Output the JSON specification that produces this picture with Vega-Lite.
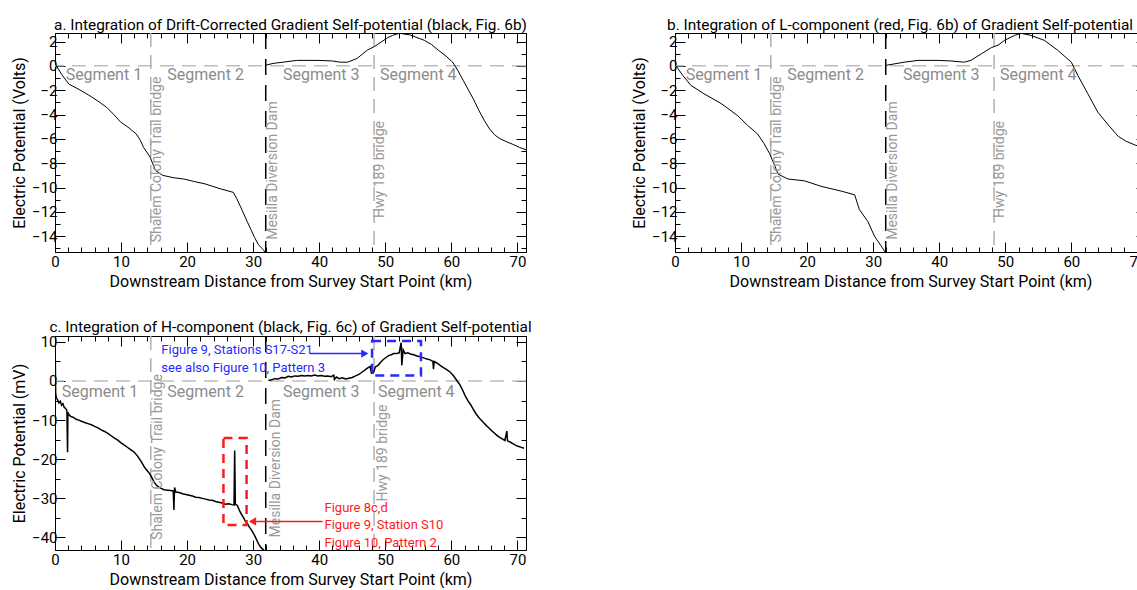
{
  "$schema": "https://vega.github.io/schema/vega-lite/v6.json",
  "padding": {"left": 11, "top": 17, "right": 0, "bottom": 0},
  "config": {
    "font": "Roboto, Liberation Sans, sans-serif",
    "view": {"stroke": "black", "strokeWidth": 1},
    "axis": {"grid": false, "domainColor": "black", "tickColor": "black", "labelColor": "black", "titleColor": "black", "labelFontSize": 15, "titleFontSize": 16, "titleFontWeight": "normal", "labelFlush": false, "labelOverlap": false},
    "title": {"fontSize": 15.4, "fontWeight": "normal", "color": "black", "offset": -1},
    "concat": {"spacing": 20}
  },
  "datasets": {
    "curveA": [
      {"x": 0, "y": 0.2, "part": 1}, {"x": 1, "y": -0.7, "part": 1}, {"x": 2.1, "y": -1.5, "part": 1}, {"x": 3.5, "y": -1.9, "part": 1}, {"x": 5.1, "y": -2.4, "part": 1}, {"x": 6.5, "y": -2.9, "part": 1}, {"x": 7.8, "y": -3.4, "part": 1}, {"x": 8.9, "y": -4.0, "part": 1}, {"x": 9.9, "y": -4.6, "part": 1}, {"x": 11.2, "y": -5.1, "part": 1}, {"x": 12.3, "y": -5.6, "part": 1}, {"x": 12.9, "y": -6.1, "part": 1}, {"x": 13.4, "y": -6.7, "part": 1}, {"x": 14.4, "y": -7.5, "part": 1}, {"x": 15.2, "y": -8.6, "part": 1}, {"x": 16.3, "y": -9.0, "part": 1}, {"x": 18, "y": -9.2, "part": 1}, {"x": 19.5, "y": -9.3, "part": 1}, {"x": 21, "y": -9.5, "part": 1}, {"x": 22.7, "y": -9.7, "part": 1}, {"x": 25, "y": -10.1, "part": 1}, {"x": 27, "y": -10.4, "part": 1}, {"x": 27.5, "y": -10.9, "part": 1}, {"x": 28.1, "y": -11.6, "part": 1}, {"x": 29.1, "y": -12.8, "part": 1}, {"x": 29.7, "y": -13.5, "part": 1}, {"x": 30.2, "y": -14.1, "part": 1}, {"x": 30.8, "y": -14.7, "part": 1}, {"x": 31.5, "y": -15.1, "part": 1}, {"x": 31.8, "y": -15.3, "part": 1},
      {"x": 31.9, "y": 0.05, "part": 2}, {"x": 33, "y": 0.2, "part": 2}, {"x": 34.5, "y": 0.3, "part": 2}, {"x": 36.6, "y": 0.45, "part": 2}, {"x": 39.8, "y": 0.45, "part": 2}, {"x": 42, "y": 0.4, "part": 2}, {"x": 43.2, "y": 0.3, "part": 2}, {"x": 44.3, "y": 0.3, "part": 2}, {"x": 45.7, "y": 0.6, "part": 2}, {"x": 46.5, "y": 0.95, "part": 2}, {"x": 47.3, "y": 1.3, "part": 2}, {"x": 48.4, "y": 1.6, "part": 2}, {"x": 49.5, "y": 2.0, "part": 2}, {"x": 50.3, "y": 2.3, "part": 2}, {"x": 51.1, "y": 2.5, "part": 2}, {"x": 52.1, "y": 2.68, "part": 2}, {"x": 53.7, "y": 2.55, "part": 2}, {"x": 55.9, "y": 2.1, "part": 2}, {"x": 57, "y": 1.75, "part": 2}, {"x": 58, "y": 1.3, "part": 2}, {"x": 59.2, "y": 0.8, "part": 2}, {"x": 60.2, "y": 0.3, "part": 2}, {"x": 61, "y": -0.4, "part": 2}, {"x": 61.8, "y": -1.2, "part": 2}, {"x": 62.6, "y": -2.0, "part": 2}, {"x": 63.4, "y": -2.8, "part": 2}, {"x": 64.2, "y": -3.7, "part": 2}, {"x": 65, "y": -4.5, "part": 2}, {"x": 65.8, "y": -5.2, "part": 2}, {"x": 66.6, "y": -5.7, "part": 2}, {"x": 67.4, "y": -6.0, "part": 2}, {"x": 68.2, "y": -6.2, "part": 2}, {"x": 69.3, "y": -6.45, "part": 2}, {"x": 70.3, "y": -6.7, "part": 2}, {"x": 71.3, "y": -6.9, "part": 2}
    ],
    "curveB": [
      {"x": 0, "y": 0.1, "part": 1}, {"x": 1.2, "y": -0.8, "part": 1}, {"x": 2.4, "y": -1.6, "part": 1}, {"x": 4.4, "y": -2.3, "part": 1}, {"x": 7, "y": -3.1, "part": 1}, {"x": 9.5, "y": -4.1, "part": 1}, {"x": 11, "y": -4.9, "part": 1}, {"x": 12.5, "y": -5.6, "part": 1}, {"x": 13.5, "y": -6.4, "part": 1}, {"x": 14.3, "y": -7.2, "part": 1}, {"x": 15.1, "y": -8.2, "part": 1}, {"x": 15.6, "y": -8.9, "part": 1}, {"x": 17.1, "y": -9.3, "part": 1}, {"x": 19.6, "y": -9.45, "part": 1}, {"x": 22.1, "y": -9.9, "part": 1}, {"x": 25.2, "y": -10.3, "part": 1}, {"x": 27.2, "y": -10.6, "part": 1}, {"x": 27.9, "y": -11.8, "part": 1}, {"x": 29.2, "y": -12.8, "part": 1}, {"x": 30.2, "y": -14, "part": 1}, {"x": 31.2, "y": -14.8, "part": 1}, {"x": 31.8, "y": -15.3, "part": 1},
      {"x": 32.0, "y": 0.05, "part": 2}, {"x": 34.7, "y": 0.3, "part": 2}, {"x": 36.8, "y": 0.45, "part": 2}, {"x": 39.8, "y": 0.45, "part": 2}, {"x": 41.8, "y": 0.4, "part": 2}, {"x": 43.8, "y": 0.3, "part": 2}, {"x": 44.8, "y": 0.45, "part": 2}, {"x": 46.4, "y": 1.0, "part": 2}, {"x": 47.9, "y": 1.5, "part": 2}, {"x": 48.9, "y": 1.7, "part": 2}, {"x": 49.9, "y": 2.1, "part": 2}, {"x": 51.4, "y": 2.5, "part": 2}, {"x": 52.4, "y": 2.68, "part": 2}, {"x": 53.9, "y": 2.5, "part": 2}, {"x": 55.9, "y": 2.1, "part": 2}, {"x": 57.9, "y": 1.3, "part": 2}, {"x": 60, "y": 0.3, "part": 2}, {"x": 61, "y": -0.8, "part": 2}, {"x": 62.5, "y": -2.3, "part": 2}, {"x": 64, "y": -3.8, "part": 2}, {"x": 65.5, "y": -4.8, "part": 2}, {"x": 67.1, "y": -5.8, "part": 2}, {"x": 68.3, "y": -6.2, "part": 2}, {"x": 69.6, "y": -6.5, "part": 2}, {"x": 71.3, "y": -6.8, "part": 2}
    ],
    "curveC": [
      {"x": 0, "y": 0, "part": 1}, {"x": 0.05, "y": 5, "part": 1}, {"x": 0.1, "y": -3, "part": 1}, {"x": 0.2, "y": -4.3, "part": 1}, {"x": 0.4, "y": -4.8, "part": 1}, {"x": 0.6, "y": -5.6, "part": 1}, {"x": 0.8, "y": -5.2, "part": 1}, {"x": 1.0, "y": -6.2, "part": 1}, {"x": 1.2, "y": -5.8, "part": 1}, {"x": 1.4, "y": -6.8, "part": 1}, {"x": 1.6, "y": -7.0, "part": 1}, {"x": 1.8, "y": -7.6, "part": 1}, {"x": 1.9, "y": -18.2, "part": 1}, {"x": 1.95, "y": -8.0, "part": 1}, {"x": 2.1, "y": -8.6, "part": 1}, {"x": 2.4, "y": -9.1, "part": 1}, {"x": 2.8, "y": -9.3, "part": 1}, {"x": 3.2, "y": -9.8, "part": 1}, {"x": 3.6, "y": -10.0, "part": 1}, {"x": 4.0, "y": -10.3, "part": 1}, {"x": 4.5, "y": -10.6, "part": 1}, {"x": 5.0, "y": -10.9, "part": 1}, {"x": 5.5, "y": -11.2, "part": 1}, {"x": 6.0, "y": -11.6, "part": 1}, {"x": 6.5, "y": -12.0, "part": 1}, {"x": 7.0, "y": -12.5, "part": 1}, {"x": 7.5, "y": -12.9, "part": 1}, {"x": 8.0, "y": -13.4, "part": 1}, {"x": 8.5, "y": -14.0, "part": 1}, {"x": 9.0, "y": -14.6, "part": 1}, {"x": 9.5, "y": -15.1, "part": 1}, {"x": 10.0, "y": -15.8, "part": 1}, {"x": 10.5, "y": -16.4, "part": 1}, {"x": 11.0, "y": -17.0, "part": 1}, {"x": 11.5, "y": -17.6, "part": 1}, {"x": 12.0, "y": -18.2, "part": 1}, {"x": 12.5, "y": -19.2, "part": 1}, {"x": 13.0, "y": -20.5, "part": 1}, {"x": 13.3, "y": -21.3, "part": 1}, {"x": 13.6, "y": -22.2, "part": 1}, {"x": 14.0, "y": -23.0, "part": 1}, {"x": 14.3, "y": -23.6, "part": 1}, {"x": 14.6, "y": -24.5, "part": 1}, {"x": 15.0, "y": -25.8, "part": 1}, {"x": 15.3, "y": -26.5, "part": 1}, {"x": 15.6, "y": -27.0, "part": 1}, {"x": 16.0, "y": -27.4, "part": 1}, {"x": 16.5, "y": -27.8, "part": 1}, {"x": 17.0, "y": -27.9, "part": 1}, {"x": 17.5, "y": -28.0, "part": 1}, {"x": 17.9, "y": -28.1, "part": 1}, {"x": 18.0, "y": -33.0, "part": 1}, {"x": 18.1, "y": -27.2, "part": 1}, {"x": 18.3, "y": -28.4, "part": 1}, {"x": 18.8, "y": -28.5, "part": 1}, {"x": 19.3, "y": -28.8, "part": 1}, {"x": 19.8, "y": -29.0, "part": 1}, {"x": 20.3, "y": -29.2, "part": 1}, {"x": 20.8, "y": -29.4, "part": 1}, {"x": 21.3, "y": -29.7, "part": 1}, {"x": 21.8, "y": -29.8, "part": 1}, {"x": 22.3, "y": -30.0, "part": 1}, {"x": 22.8, "y": -30.2, "part": 1}, {"x": 23.3, "y": -30.4, "part": 1}, {"x": 23.8, "y": -30.5, "part": 1}, {"x": 24.3, "y": -30.8, "part": 1}, {"x": 24.8, "y": -31.0, "part": 1}, {"x": 25.3, "y": -31.2, "part": 1}, {"x": 25.8, "y": -31.5, "part": 1}, {"x": 26.3, "y": -31.4, "part": 1}, {"x": 26.8, "y": -31.6, "part": 1}, {"x": 27.1, "y": -31.7, "part": 1}, {"x": 27.2, "y": -17.8, "part": 1}, {"x": 27.3, "y": -31.5, "part": 1}, {"x": 27.6, "y": -31.8, "part": 1}, {"x": 27.9, "y": -33.0, "part": 1}, {"x": 28.2, "y": -34.0, "part": 1}, {"x": 28.5, "y": -34.8, "part": 1}, {"x": 28.8, "y": -35.8, "part": 1}, {"x": 29.1, "y": -36.4, "part": 1}, {"x": 29.4, "y": -37.3, "part": 1}, {"x": 29.7, "y": -38.0, "part": 1}, {"x": 30.0, "y": -38.8, "part": 1}, {"x": 30.3, "y": -39.8, "part": 1}, {"x": 30.6, "y": -40.9, "part": 1}, {"x": 30.9, "y": -41.9, "part": 1}, {"x": 31.2, "y": -42.6, "part": 1}, {"x": 31.5, "y": -43.1, "part": 1}, {"x": 31.8, "y": -43.7, "part": 1},
      {"x": 32.3, "y": 0.1, "part": 2}, {"x": 32.8, "y": 0.3, "part": 2}, {"x": 33.3, "y": 0.6, "part": 2}, {"x": 33.8, "y": 0.5, "part": 2}, {"x": 34.3, "y": 0.9, "part": 2}, {"x": 34.8, "y": 0.8, "part": 2}, {"x": 35.3, "y": 1.2, "part": 2}, {"x": 35.8, "y": 1.0, "part": 2}, {"x": 36.3, "y": 1.3, "part": 2}, {"x": 36.8, "y": 1.2, "part": 2}, {"x": 37.3, "y": 1.4, "part": 2}, {"x": 37.8, "y": 1.3, "part": 2}, {"x": 38.3, "y": 1.4, "part": 2}, {"x": 38.8, "y": 1.3, "part": 2}, {"x": 39.3, "y": 1.5, "part": 2}, {"x": 39.8, "y": 1.3, "part": 2}, {"x": 40.3, "y": 1.4, "part": 2}, {"x": 40.8, "y": 1.2, "part": 2}, {"x": 41.3, "y": 1.3, "part": 2}, {"x": 41.8, "y": 1.1, "part": 2}, {"x": 42.2, "y": 1.5, "part": 2}, {"x": 42.3, "y": 0.4, "part": 2}, {"x": 42.6, "y": 1.0, "part": 2}, {"x": 43.0, "y": 0.6, "part": 2}, {"x": 43.5, "y": 0.8, "part": 2}, {"x": 44.0, "y": 0.5, "part": 2}, {"x": 44.5, "y": 0.7, "part": 2}, {"x": 45.0, "y": 0.9, "part": 2}, {"x": 45.5, "y": 1.3, "part": 2}, {"x": 46.0, "y": 1.7, "part": 2}, {"x": 46.5, "y": 2.3, "part": 2}, {"x": 47.0, "y": 2.9, "part": 2}, {"x": 47.4, "y": 3.4, "part": 2}, {"x": 47.7, "y": 3.7, "part": 2}, {"x": 47.9, "y": 2.0, "part": 2}, {"x": 48.2, "y": 2.1, "part": 2}, {"x": 48.5, "y": 3.6, "part": 2}, {"x": 48.9, "y": 4.0, "part": 2}, {"x": 49.3, "y": 4.8, "part": 2}, {"x": 49.7, "y": 5.5, "part": 2}, {"x": 50.1, "y": 6.0, "part": 2}, {"x": 50.5, "y": 6.5, "part": 2}, {"x": 50.9, "y": 6.7, "part": 2}, {"x": 51.3, "y": 7.0, "part": 2}, {"x": 51.7, "y": 7.0, "part": 2}, {"x": 52.1, "y": 7.2, "part": 2}, {"x": 52.4, "y": 9.8, "part": 2}, {"x": 52.5, "y": 4.0, "part": 2}, {"x": 52.7, "y": 8.0, "part": 2}, {"x": 53.0, "y": 7.0, "part": 2}, {"x": 53.4, "y": 7.2, "part": 2}, {"x": 53.8, "y": 6.9, "part": 2}, {"x": 54.3, "y": 6.7, "part": 2}, {"x": 54.8, "y": 6.4, "part": 2}, {"x": 55.3, "y": 6.2, "part": 2}, {"x": 55.8, "y": 5.9, "part": 2}, {"x": 56.3, "y": 5.6, "part": 2}, {"x": 56.8, "y": 5.4, "part": 2}, {"x": 57.2, "y": 5.0, "part": 2}, {"x": 57.3, "y": 3.0, "part": 2}, {"x": 57.4, "y": 5.0, "part": 2}, {"x": 57.8, "y": 4.6, "part": 2}, {"x": 58.3, "y": 4.0, "part": 2}, {"x": 58.8, "y": 3.4, "part": 2}, {"x": 59.3, "y": 2.9, "part": 2}, {"x": 59.8, "y": 2.3, "part": 2}, {"x": 60.3, "y": 1.4, "part": 2}, {"x": 60.8, "y": 0.2, "part": 2}, {"x": 61.3, "y": -1.0, "part": 2}, {"x": 61.7, "y": -2.3, "part": 2}, {"x": 62.1, "y": -3.8, "part": 2}, {"x": 62.5, "y": -5.0, "part": 2}, {"x": 62.9, "y": -6.0, "part": 2}, {"x": 63.3, "y": -7.2, "part": 2}, {"x": 63.7, "y": -8.3, "part": 2}, {"x": 64.1, "y": -9.2, "part": 2}, {"x": 64.5, "y": -10.0, "part": 2}, {"x": 64.9, "y": -10.7, "part": 2}, {"x": 65.3, "y": -11.4, "part": 2}, {"x": 65.7, "y": -12.0, "part": 2}, {"x": 66.1, "y": -12.7, "part": 2}, {"x": 66.5, "y": -13.3, "part": 2}, {"x": 66.9, "y": -13.9, "part": 2}, {"x": 67.3, "y": -14.4, "part": 2}, {"x": 67.7, "y": -14.8, "part": 2}, {"x": 68.1, "y": -15.2, "part": 2}, {"x": 68.4, "y": -12.8, "part": 2}, {"x": 68.5, "y": -15.3, "part": 2}, {"x": 68.9, "y": -15.6, "part": 2}, {"x": 69.3, "y": -16.0, "part": 2}, {"x": 69.7, "y": -16.4, "part": 2}, {"x": 70.1, "y": -16.7, "part": 2}, {"x": 70.5, "y": -16.9, "part": 2}, {"x": 71.0, "y": -17.2, "part": 2}
    ],
    "zero": [{"v": 0}],
    "grayLines": [{"x": 14.5}, {"x": 48.3}],
    "dam": [{"x": 31.9}],
    "segAB": [{"x": 7.4, "y": -0.75, "label": "Segment 1"}, {"x": 22.8, "y": -0.75, "label": "Segment 2"}, {"x": 40.3, "y": -0.75, "label": "Segment 3"}, {"x": 55.0, "y": -0.75, "label": "Segment 4"}],
    "segC": [{"x": 6.8, "y": -2.8, "label": "Segment 1"}, {"x": 22.8, "y": -2.8, "label": "Segment 2"}, {"x": 40.3, "y": -2.8, "label": "Segment 3"}, {"x": 54.7, "y": -2.8, "label": "Segment 4"}],
    "vlabAB": [{"x": 15.4, "y": -14.5, "label": "Shalem Colony Trail bridge"}, {"x": 33.0, "y": -14.3, "label": "Mesilla Diversion Dam"}, {"x": 49.2, "y": -12.5, "label": "Hwy 189 bridge"}],
    "vlabC": [{"x": 15.6, "y": -40.6, "label": "Shalem Colony Trail bridge"}, {"x": 33.4, "y": -40.0, "label": "Mesilla Diversion Dam"}, {"x": 49.6, "y": -30.8, "label": "Hwy 189 bridge"}],
    "boxes": [{"x": 25.5, "x2": 29.0, "y": -14.6, "y2": -36.8, "g": "S10"}, {"x": 48.0, "x2": 55.4, "y": 10.2, "y2": 1.4, "g": "S17"}],
    "annoText": [{"x": 16.1, "y": 7.8, "label": "Figure 9, Stations S17-S21", "g": "S17"}, {"x": 16.1, "y": 3.2, "label": "see also Figure 10, Pattern 3", "g": "S17"}, {"x": 40.8, "y": -32.5, "label": "Figure 8c,d", "g": "S10"}, {"x": 40.8, "y": -36.9, "label": "Figure 9, Station S10", "g": "S10"}, {"x": 40.8, "y": -41.5, "label": "Figure 10, Pattern 2", "g": "S10"}],
    "arrows": [{"x": 38.6, "x2": 46.6, "y": 7.0, "g": "S17"}, {"x": 40.5, "x2": 30.2, "y": -35.9, "g": "S10"}],
    "heads": [{"x": 46.9, "y": 7.0, "g": "S17"}, {"x": 29.9, "y": -35.9, "g": "S10"}]
  },
  "vconcat": [
    {
      "hconcat": [
        {
          "width": 471, "height": 219,
          "title": "a. Integration of Drift-Corrected Gradient Self-potential (black, Fig. 6b)",
          "resolve": {"axis": {"x": "independent", "y": "independent"}},
          "layer": [
            {"data": {"name": "zero"}, "mark": {"type": "rule", "color": "#bdbdbd", "strokeDash": [14, 8], "strokeWidth": 1.5},
             "encoding": {"y": {"field": "v", "type": "quantitative", "scale": {"domain": [-15.3, 2.7], "nice": false, "zero": false},
               "axis": {"orient": "right", "values": [-15,-14,-13,-12,-11,-10,-9,-8,-7,-6,-5,-4,-3,-2,-1,0,1,2], "labels": false, "title": null, "tickSize": {"condition": {"test": "datum.value % 2 === 0", "value": -10}, "value": -5}}}}},
            {"data": {"name": "grayLines"}, "mark": {"type": "rule", "color": "#b0b0b0", "strokeDash": [14, 8], "strokeWidth": 1.5},
             "encoding": {"x": {"field": "x", "type": "quantitative", "scale": {"domain": [0, 71.3], "nice": false, "zero": false},
               "axis": {"orient": "top", "values": [0,2,4,6,8,10,12,14,16,18,20,22,24,26,28,30,32,34,36,38,40,42,44,46,48,50,52,54,56,58,60,62,64,66,68,70], "labels": false, "title": null, "tickSize": {"condition": {"test": "datum.value % 10 === 0", "value": -10}, "value": -5}}}}},
            {"data": {"name": "dam"}, "mark": {"type": "rule", "color": "black", "strokeDash": [16, 10], "strokeWidth": 1.5},
             "encoding": {"x": {"field": "x", "type": "quantitative", "scale": {"domain": [0, 71.3], "nice": false, "zero": false}, "axis": null}}},
            {"data": {"name": "curveA"}, "mark": {"type": "line", "color": "black", "strokeWidth": 1, "clip": true},
             "encoding": {
               "x": {"field": "x", "type": "quantitative", "scale": {"domain": [0, 71.3], "nice": false, "zero": false},
                 "axis": {"orient": "bottom", "values": [0,2,4,6,8,10,12,14,16,18,20,22,24,26,28,30,32,34,36,38,40,42,44,46,48,50,52,54,56,58,60,62,64,66,68,70], "labelExpr": "datum.value % 10 === 0 ? datum.label : ''", "title": "Downstream Distance from Survey Start Point (km)", "tickSize": {"condition": {"test": "datum.value % 10 === 0", "value": -10}, "value": -5}, "labelPadding": 12, "titlePadding": -1}},
               "y": {"field": "y", "type": "quantitative", "scale": {"domain": [-15.3, 2.7], "nice": false, "zero": false},
                 "axis": {"orient": "left", "values": [-15,-14,-13,-12,-11,-10,-9,-8,-7,-6,-5,-4,-3,-2,-1,0,1,2], "labelExpr": "datum.value % 2 === 0 ? datum.label : ''", "title": "Electric Potential  (Volts)", "tickSize": {"condition": {"test": "datum.value % 2 === 0", "value": -10}, "value": -5}, "labelPadding": 8, "titlePadding": 4}},
               "detail": {"field": "part", "type": "nominal"}}},
            {"data": {"name": "segAB"}, "mark": {"type": "text", "color": "#8c8c8c", "fontSize": 16, "align": "center", "baseline": "middle"},
             "encoding": {"x": {"field": "x", "type": "quantitative", "scale": {"domain": [0, 71.3], "nice": false, "zero": false}, "axis": null},
               "y": {"field": "y", "type": "quantitative", "scale": {"domain": [-15.3, 2.7], "nice": false, "zero": false}, "axis": null},
               "text": {"field": "label"}}},
            {"data": {"name": "vlabAB"}, "mark": {"type": "text", "color": "#9a9a9a", "fontSize": 14, "angle": 270, "align": "left", "baseline": "middle"},
             "encoding": {"x": {"field": "x", "type": "quantitative", "scale": {"domain": [0, 71.3], "nice": false, "zero": false}, "axis": null},
               "y": {"field": "y", "type": "quantitative", "scale": {"domain": [-15.3, 2.7], "nice": false, "zero": false}, "axis": null},
               "text": {"field": "label"}}}
          ]
        },
        {
          "width": 471, "height": 219,
          "title": {"text": "b. Integration of L-component (red, Fig. 6b) of Gradient Self-potential", "anchor": "start", "frame": "group", "dx": -8},
          "resolve": {"axis": {"x": "independent", "y": "independent"}},
          "layer": [
            {"data": {"name": "zero"}, "mark": {"type": "rule", "color": "#bdbdbd", "strokeDash": [14, 8], "strokeWidth": 1.5},
             "encoding": {"y": {"field": "v", "type": "quantitative", "scale": {"domain": [-15.3, 2.7], "nice": false, "zero": false},
               "axis": {"orient": "right", "values": [-15,-14,-13,-12,-11,-10,-9,-8,-7,-6,-5,-4,-3,-2,-1,0,1,2], "labels": false, "title": null, "tickSize": {"condition": {"test": "datum.value % 2 === 0", "value": -10}, "value": -5}}}}},
            {"data": {"name": "grayLines"}, "mark": {"type": "rule", "color": "#b0b0b0", "strokeDash": [14, 8], "strokeWidth": 1.5},
             "encoding": {"x": {"field": "x", "type": "quantitative", "scale": {"domain": [0, 71.3], "nice": false, "zero": false},
               "axis": {"orient": "top", "values": [0,2,4,6,8,10,12,14,16,18,20,22,24,26,28,30,32,34,36,38,40,42,44,46,48,50,52,54,56,58,60,62,64,66,68,70], "labels": false, "title": null, "tickSize": {"condition": {"test": "datum.value % 10 === 0", "value": -10}, "value": -5}}}}},
            {"data": {"name": "dam"}, "mark": {"type": "rule", "color": "black", "strokeDash": [16, 10], "strokeWidth": 1.5},
             "encoding": {"x": {"field": "x", "type": "quantitative", "scale": {"domain": [0, 71.3], "nice": false, "zero": false}, "axis": null}}},
            {"data": {"name": "curveB"}, "mark": {"type": "line", "color": "black", "strokeWidth": 1, "clip": true},
             "encoding": {
               "x": {"field": "x", "type": "quantitative", "scale": {"domain": [0, 71.3], "nice": false, "zero": false},
                 "axis": {"orient": "bottom", "values": [0,2,4,6,8,10,12,14,16,18,20,22,24,26,28,30,32,34,36,38,40,42,44,46,48,50,52,54,56,58,60,62,64,66,68,70], "labelExpr": "datum.value % 10 === 0 ? datum.label : ''", "title": "Downstream Distance from Survey Start Point (km)", "tickSize": {"condition": {"test": "datum.value % 10 === 0", "value": -10}, "value": -5}, "labelPadding": 12, "titlePadding": -1}},
               "y": {"field": "y", "type": "quantitative", "scale": {"domain": [-15.3, 2.7], "nice": false, "zero": false},
                 "axis": {"orient": "left", "values": [-15,-14,-13,-12,-11,-10,-9,-8,-7,-6,-5,-4,-3,-2,-1,0,1,2], "labelExpr": "datum.value % 2 === 0 ? datum.label : ''", "title": "Electric Potential  (Volts)", "tickSize": {"condition": {"test": "datum.value % 2 === 0", "value": -10}, "value": -5}, "labelPadding": 8, "titlePadding": 4}},
               "detail": {"field": "part", "type": "nominal"}}},
            {"data": {"name": "segAB"}, "mark": {"type": "text", "color": "#8c8c8c", "fontSize": 16, "align": "center", "baseline": "middle"},
             "encoding": {"x": {"field": "x", "type": "quantitative", "scale": {"domain": [0, 71.3], "nice": false, "zero": false}, "axis": null},
               "y": {"field": "y", "type": "quantitative", "scale": {"domain": [-15.3, 2.7], "nice": false, "zero": false}, "axis": null},
               "text": {"field": "label"}}},
            {"data": {"name": "vlabAB"}, "mark": {"type": "text", "color": "#9a9a9a", "fontSize": 14, "angle": 270, "align": "left", "baseline": "middle"},
             "encoding": {"x": {"field": "x", "type": "quantitative", "scale": {"domain": [0, 71.3], "nice": false, "zero": false}, "axis": null},
               "y": {"field": "y", "type": "quantitative", "scale": {"domain": [-15.3, 2.7], "nice": false, "zero": false}, "axis": null},
               "text": {"field": "label"}}}
          ]
        }
      ],
      "spacing": 103
    },
    {
      "width": 471, "height": 214,
      "title": "c. Integration of H-component (black, Fig. 6c) of Gradient Self-potential",
      "resolve": {"axis": {"x": "independent", "y": "independent"}},
      "layer": [
        {"data": {"name": "zero"}, "mark": {"type": "rule", "color": "#bdbdbd", "strokeDash": [14, 8], "strokeWidth": 1.5},
         "encoding": {"y": {"field": "v", "type": "quantitative", "scale": {"domain": [-43.2, 11.5], "nice": false, "zero": false},
           "axis": {"orient": "right", "values": [-40,-35,-30,-25,-20,-15,-10,-5,0,5,10], "labels": false, "title": null, "tickSize": {"condition": {"test": "datum.value % 10 === 0", "value": -10}, "value": -5}}}}},
        {"data": {"name": "grayLines"}, "mark": {"type": "rule", "color": "#b0b0b0", "strokeDash": [14, 8], "strokeWidth": 1.5},
         "encoding": {"x": {"field": "x", "type": "quantitative", "scale": {"domain": [0, 71.3], "nice": false, "zero": false},
           "axis": {"orient": "top", "values": [0,2,4,6,8,10,12,14,16,18,20,22,24,26,28,30,32,34,36,38,40,42,44,46,48,50,52,54,56,58,60,62,64,66,68,70], "labels": false, "title": null, "tickSize": {"condition": {"test": "datum.value % 10 === 0", "value": -10}, "value": -5}}}}},
        {"data": {"name": "dam"}, "mark": {"type": "rule", "color": "black", "strokeDash": [16, 10], "strokeWidth": 1.5},
         "encoding": {"x": {"field": "x", "type": "quantitative", "scale": {"domain": [0, 71.3], "nice": false, "zero": false}, "axis": null}}},
        {"data": {"name": "curveC"}, "mark": {"type": "line", "color": "black", "strokeWidth": 1.5, "clip": true},
         "encoding": {
           "x": {"field": "x", "type": "quantitative", "scale": {"domain": [0, 71.3], "nice": false, "zero": false},
             "axis": {"orient": "bottom", "values": [0,2,4,6,8,10,12,14,16,18,20,22,24,26,28,30,32,34,36,38,40,42,44,46,48,50,52,54,56,58,60,62,64,66,68,70], "labelExpr": "datum.value % 10 === 0 ? datum.label : ''", "title": "Downstream Distance from Survey Start Point (km)", "tickSize": {"condition": {"test": "datum.value % 10 === 0", "value": -10}, "value": -5}, "labelPadding": 12, "titlePadding": -1}},
           "y": {"field": "y", "type": "quantitative", "scale": {"domain": [-43.2, 11.5], "nice": false, "zero": false},
             "axis": {"orient": "left", "values": [-40,-35,-30,-25,-20,-15,-10,-5,0,5,10], "labelExpr": "datum.value % 10 === 0 ? datum.label : ''", "title": "Electric Potential  (mV)", "tickSize": {"condition": {"test": "datum.value % 10 === 0", "value": -10}, "value": -5}, "labelPadding": 8, "titlePadding": 4}},
           "detail": {"field": "part", "type": "nominal"}}},
        {"data": {"name": "segC"}, "mark": {"type": "text", "color": "#8c8c8c", "fontSize": 16, "align": "center", "baseline": "middle"},
         "encoding": {"x": {"field": "x", "type": "quantitative", "scale": {"domain": [0, 71.3], "nice": false, "zero": false}, "axis": null},
           "y": {"field": "y", "type": "quantitative", "scale": {"domain": [-43.2, 11.5], "nice": false, "zero": false}, "axis": null},
           "text": {"field": "label"}}},
        {"data": {"name": "vlabC"}, "mark": {"type": "text", "color": "#9a9a9a", "fontSize": 14, "angle": 270, "align": "left", "baseline": "middle"},
         "encoding": {"x": {"field": "x", "type": "quantitative", "scale": {"domain": [0, 71.3], "nice": false, "zero": false}, "axis": null},
           "y": {"field": "y", "type": "quantitative", "scale": {"domain": [-43.2, 11.5], "nice": false, "zero": false}, "axis": null},
           "text": {"field": "label"}}},
        {"data": {"name": "boxes"}, "mark": {"type": "rect", "fill": null, "filled": false, "strokeWidth": 2.5, "strokeDash": [9, 6]},
         "encoding": {"x": {"field": "x", "type": "quantitative", "scale": {"domain": [0, 71.3], "nice": false, "zero": false}, "axis": null},
           "x2": {"field": "x2"},
           "y": {"field": "y", "type": "quantitative", "scale": {"domain": [-43.2, 11.5], "nice": false, "zero": false}, "axis": null},
           "y2": {"field": "y2"},
           "stroke": {"field": "g", "type": "nominal", "scale": {"domain": ["S10", "S17"], "range": ["#ff1a1a", "#2a2aff"]}, "legend": null}}},
        {"data": {"name": "arrows"}, "mark": {"type": "rule", "strokeWidth": 1.5},
         "encoding": {"x": {"field": "x", "type": "quantitative", "scale": {"domain": [0, 71.3], "nice": false, "zero": false}, "axis": null},
           "x2": {"field": "x2"},
           "y": {"field": "y", "type": "quantitative", "scale": {"domain": [-43.2, 11.5], "nice": false, "zero": false}, "axis": null},
           "color": {"field": "g", "type": "nominal", "scale": {"domain": ["S10", "S17"], "range": ["#ff1a1a", "#2a2aff"]}, "legend": null}}},
        {"data": {"name": "heads"}, "mark": {"type": "point", "filled": true, "opacity": 1, "size": 70},
         "encoding": {"x": {"field": "x", "type": "quantitative", "scale": {"domain": [0, 71.3], "nice": false, "zero": false}, "axis": null},
           "y": {"field": "y", "type": "quantitative", "scale": {"domain": [-43.2, 11.5], "nice": false, "zero": false}, "axis": null},
           "shape": {"field": "g", "type": "nominal", "scale": {"domain": ["S10", "S17"], "range": ["triangle-left", "triangle-right"]}, "legend": null},
           "color": {"field": "g", "type": "nominal", "scale": {"domain": ["S10", "S17"], "range": ["#ff1a1a", "#2a2aff"]}, "legend": null}}},
        {"data": {"name": "annoText"}, "mark": {"type": "text", "fontSize": 13, "align": "left", "baseline": "middle"},
         "encoding": {"x": {"field": "x", "type": "quantitative", "scale": {"domain": [0, 71.3], "nice": false, "zero": false}, "axis": null},
           "y": {"field": "y", "type": "quantitative", "scale": {"domain": [-43.2, 11.5], "nice": false, "zero": false}, "axis": null},
           "text": {"field": "label"},
           "color": {"field": "g", "type": "nominal", "scale": {"domain": ["S10", "S17"], "range": ["#ff1a1a", "#2a2aff"]}, "legend": null}}}
      ]
    }
  ],
  "spacing": 29
}
